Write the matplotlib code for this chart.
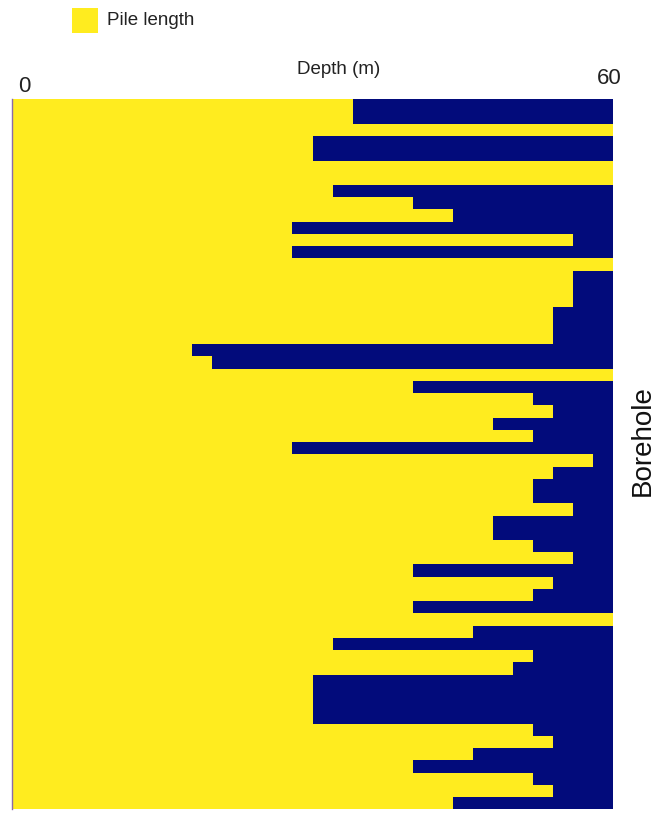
import matplotlib
matplotlib.use("Agg")
import matplotlib.pyplot as plt
import numpy as np

plt.rcParams['font.family'] = ['Liberation Sans', 'DejaVu Sans']

boreholes = [f"BH{i+1}" for i in range(58)]
pile_length = [34, 34, 60, 30, 30, 60, 60, 32, 40, 44,
               28, 56, 28, 60, 56, 56, 56, 54, 54, 54,
               18, 20, 60, 40, 52, 54, 48, 52, 28, 58,
               54, 52, 52, 56, 48, 48, 52, 56, 40, 54,
               52, 40, 60, 46, 32, 52, 50, 30, 30, 30,
               30, 52, 54, 46, 40, 52, 54, 44]
depth_min, depth_max = 0, 60

YELLOW = '#ffec1f'
NAVY = '#020b7b'

W, H = 665, 814
fig = plt.figure(figsize=(W / 100, H / 100), dpi=100)
ax = fig.add_axes([12 / W, 1 - 809.3 / H, (613 - 12) / W, (809.3 - 99.3) / H])
ax.set_facecolor(NAVY)

y = np.arange(len(boreholes))
ax.barh(y, pile_length, height=1.0, color=YELLOW, edgecolor='none', linewidth=0)
ax.set_xlim(depth_min, depth_max)
ax.set_ylim(len(boreholes) - 0.5, -0.5)
ax.set_xticks([])
ax.set_yticks([])
for s in ['top', 'right', 'bottom']:
    ax.spines[s].set_visible(False)
ax.spines['left'].set_color('#8a6aa8')
ax.spines['left'].set_linewidth(1.0)

# axis texts
fig.text(24 / W, 1 - 86 / H, str(depth_min), fontsize=16, ha='center', va='center', color='#222222')
fig.text(609 / W, 1 - 79 / H, str(depth_max), fontsize=16, ha='center', va='center', color='#222222')
fig.text(339 / W, 1 - 69 / H, 'Depth (m)', fontsize=13.5, ha='center', va='center', color='#222222')
fig.text(643 / W, 1 - 441 / H, 'Borehole', fontsize=20, rotation=90, ha='center', va='center', color='#111111')

# legend
from matplotlib.patches import Rectangle
fig.patches.append(Rectangle((72 / W, 1 - 33.3 / H), 26 / W, 25 / H, transform=fig.transFigure,
                             facecolor=YELLOW, edgecolor='none'))
fig.text(107 / W, 1 - 20.5 / H, 'Pile length', fontsize=13.5, ha='left', va='center', color='#222222')

fig.savefig('out.png', dpi=100)
